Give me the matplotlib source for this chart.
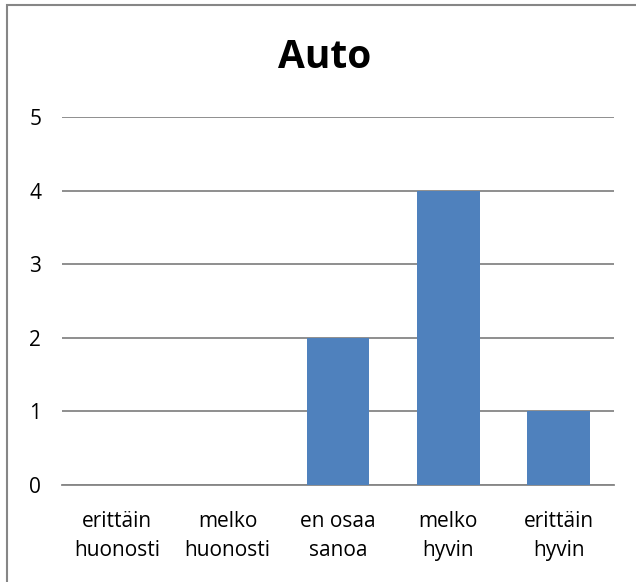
import matplotlib.pyplot as plt
from matplotlib.patches import Rectangle

plt.rcParams['font.family'] = ['Open Sans', 'DejaVu Sans']

categories = ['erittäin\nhuonosti', 'melko\nhuonosti', 'en osaa\nsanoa', 'melko\nhyvin', 'erittäin\nhyvin']
values = [0, 0, 2, 4, 1]
yticks = [0, 1, 2, 3, 4, 5]

fig = plt.figure(figsize=(6.36, 5.82), dpi=100)
ax = fig.add_axes([62 / 636, 1 - 485 / 582, (614 - 62) / 636, (485 - 117) / 582])

x = range(len(categories))
ax.bar(x, values, width=0.57, color='#4F81BD', zorder=3)
ax.set_xlim(-0.5, len(categories) - 0.5)
ax.set_ylim(0, 5)
ax.set_yticks(yticks)
ax.set_xticks(list(x))
ax.set_xticklabels(categories, fontsize=15, linespacing=1.5)
ax.tick_params(axis='both', length=0, labelsize=15)
ax.tick_params(axis='x', pad=19)
ax.tick_params(axis='y', pad=15)
ax.grid(axis='y', color='#868686', linewidth=1.3, zorder=0)
for s in ['top', 'right', 'left']:
    ax.spines[s].set_visible(False)
ax.spines['bottom'].set_color('#868686')
ax.spines['bottom'].set_linewidth(1.3)

fig.text(325 / 636, 1 - 58 / 582, 'Auto', ha='center', va='center', fontsize=28, fontweight='bold')

# harmaa kehys (oikea ja ala reuna rajautuvat pois)
fig.patches.append(Rectangle((7 / 636, -0.1), 1.1, (1 - 4.5 / 582) + 0.1, transform=fig.transFigure,
                             fill=False, edgecolor='#868686', linewidth=1.5))

fig.savefig('out.png', dpi=100)
